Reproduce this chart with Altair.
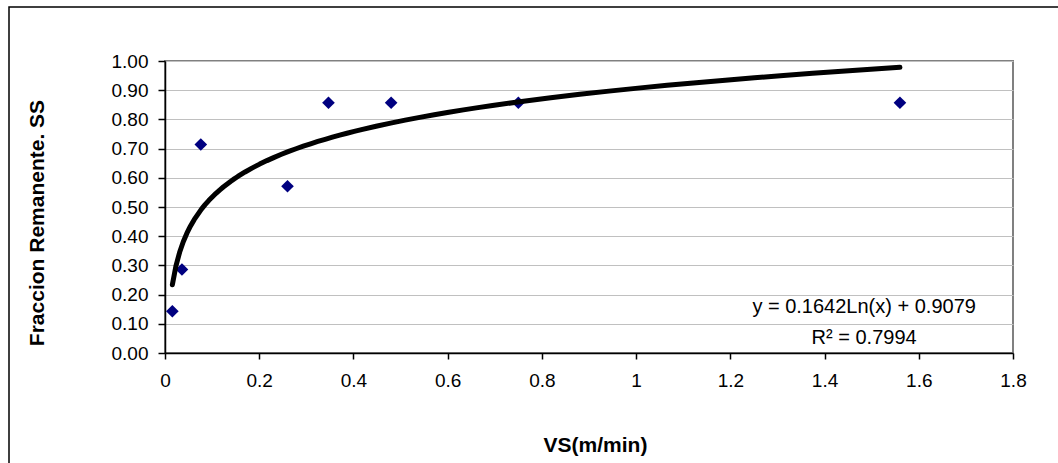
import altair as alt
import pandas as pd

# ---- data ----
vs = [0.0156, 0.036, 0.076, 0.26, 0.347, 0.48, 0.75, 1.56]
fraccion = [0.143, 0.286, 0.714, 0.571, 0.857, 0.857, 0.857, 0.857]
x_ticks = [0, 0.2, 0.4, 0.6, 0.8, 1.0, 1.2, 1.4, 1.6, 1.8]
y_ticks = [0.0, 0.1, 0.2, 0.3, 0.4, 0.5, 0.6, 0.7, 0.8, 0.9, 1.0]
eq_lines = ["y = 0.1642Ln(x) + 0.9079", "R\u00b2 = 0.7994"]
x_title = "VS(m/min)"
y_title = "Fraccion Remanente. SS"

df = pd.DataFrame({"vs": vs, "fr": fraccion})
FONT = "Liberation Sans"

x_scale = alt.Scale(domain=[0, 1.8], nice=False, zero=False)
y_scale = alt.Scale(domain=[0, 1], nice=False, zero=False)

x_axis = alt.Axis(
    values=x_ticks, tickCount=30, format="~f", title=x_title, grid=False,
    labelFont=FONT, labelFontSize=19, labelColor="black", labelPadding=12,
    labelFlush=False, labelOverlap=False,
    tickSize=6, tickColor="black", tickWidth=1.5,
    domainColor="black", domainWidth=1.5,
    titleFont=FONT, titleFontSize=21, titleFontWeight="bold", titleColor="black",
    titleX=430, titleY=92, titleBaseline="middle", titleAlign="center",
)
y_axis = alt.Axis(
    values=y_ticks, tickCount=30, format=".2f", title=y_title, grid=True,
    gridColor="#c0c0c0", gridWidth=1,
    labelFont=FONT, labelFontSize=19, labelColor="black", labelPadding=10,
    labelFlush=False, labelOverlap=False,
    tickSize=7, tickColor="black", tickWidth=1.5,
    domainColor="black", domainWidth=1.5,
    titleFont=FONT, titleFontSize=21, titleFontWeight="bold", titleColor="black",
    titleX=-127.5, titleY=161.5, titleBaseline="middle", titleAlign="center",
    titleAngle=270,
)

x_enc = alt.X("vs:Q", scale=x_scale, axis=x_axis)
y_enc = alt.Y("fr:Q", scale=y_scale, axis=y_axis)

one = alt.Chart(df).transform_aggregate(n="count()")

frame = one.mark_rect(fillOpacity=0, stroke="black", strokeWidth=1.5).encode(
    x=alt.value(-156), x2=alt.value(900), y=alt.value(-54), y2=alt.value(420)
)

points = alt.Chart(df).mark_point(
    shape="diamond", filled=True, color="#000080", size=160, opacity=1
).encode(x=x_enc, y=y_enc)

trend = alt.Chart(df).transform_regression(
    "vs", "fr", method="log"
).mark_line(color="black", strokeWidth=5, strokeCap="round", strokeJoin="round").encode(
    x=x_enc, y=y_enc
)

annot = one.mark_text(
    font=FONT, fontSize=20, color="black", align="center", baseline="middle", lineHeight=31
).encode(
    x=alt.datum(1.484), y=alt.datum(0.159), text=alt.value(eq_lines)
)

chart = alt.layer(points, trend, annot, frame).properties(
    width=848, height=292,
    autosize=alt.AutoSizeParams(type="none"),
    padding={"left": 165, "top": 61, "right": 45, "bottom": 110},
    background="white",
).configure_view(stroke="#808080", strokeWidth=2)

chart.save("out.html", embed_options={"renderer": "svg", "actions": False})
